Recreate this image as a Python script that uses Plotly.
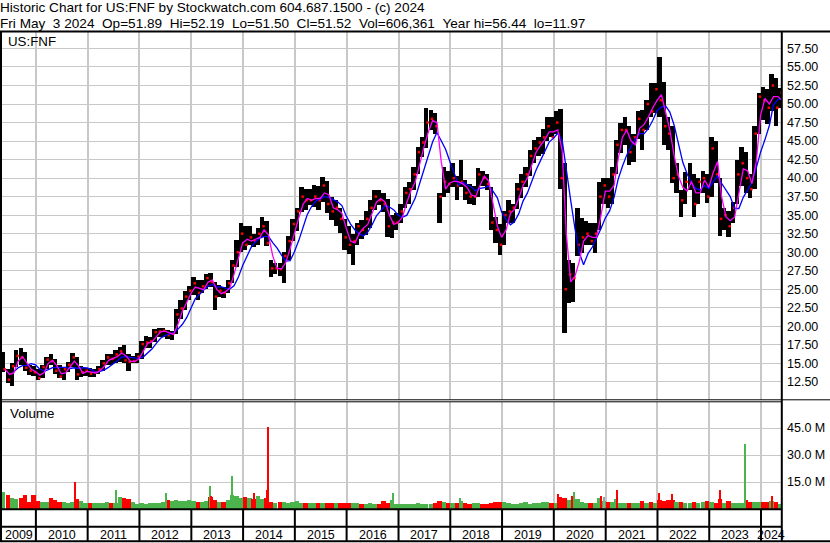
import pandas as pd
import plotly.graph_objects as go

# ---------------- data ----------------
MONTHS = pd.date_range("2009-05-01", "2024-05-01", freq="MS")  # 181 monthly bars

HIGH = [
    16.5, 14.3, 15.0, 16.8, 17.1, 16.5, 14.8, 14.6,                      # 2009 May-Dec
    14.3, 14.8, 15.8, 16.2, 15.6, 14.8, 14.5, 15.2, 16.4, 15.8, 14.7, 14.4,  # 2010
    14.4, 14.3, 14.6, 15.4, 16.3, 16.2, 16.8, 17.2, 17.5, 16.2, 16.0, 16.4,  # 2011
    18.0, 18.7, 18.5, 19.6, 19.8, 19.8, 19.5, 19.4, 22.4, 23.6, 24.8, 25.5,  # 2012
    26.6, 26.3, 26.2, 27.0, 27.2, 26.0, 25.6, 25.3, 26.3, 29.0, 31.7, 33.9,  # 2013
    33.5, 33.6, 32.5, 33.3, 34.8, 34.2, 28.9, 28.6, 28.5, 30.0, 32.2, 34.5,  # 2014
    36.0, 38.8, 38.5, 38.5, 39.1, 38.9, 40.2, 39.6, 37.5, 37.0, 36.0, 34.5,  # 2015
    33.5, 32.5, 34.0, 34.3, 35.5, 37.0, 38.4, 38.4, 38.0, 37.2, 35.0, 35.3,  # 2016
    36.5, 38.8, 39.5, 41.5, 44.2, 45.5, 49.5, 49.2, 48.8, 38.0, 41.5, 40.9,  # 2017
    42.0, 40.3, 42.4, 39.8, 39.2, 39.0, 41.3, 41.0, 40.5, 38.8, 34.8, 33.8,  # 2018
    35.5, 37.0, 36.5, 39.3, 40.6, 41.5, 43.8, 45.1, 45.5, 46.6, 48.2, 48.3,  # 2019
    49.0, 49.3, 42.0, 29.0, 28.5, 36.0, 34.6, 34.2, 34.0, 34.0, 39.5, 40.0,  # 2020
    40.0, 41.5, 45.2, 47.5, 48.2, 47.0, 46.0, 49.0, 49.2, 50.5, 52.8, 52.8,  # 2021
    56.4, 53.0, 48.2, 47.0, 42.0, 38.4, 40.8, 42.0, 40.5, 40.0, 41.0, 40.5,  # 2022
    45.5, 45.0, 40.0, 36.0, 35.5, 36.8, 42.5, 44.2, 43.5, 40.5, 47.0, 51.5,  # 2023
    52.3, 52.0, 54.0, 53.5, 52.2,                                          # 2024 Jan-May
]
LOW = [
    13.8, 12.3, 12.0, 14.5, 14.8, 14.0, 13.4, 13.3,
    12.8, 13.0, 14.3, 14.8, 13.6, 13.0, 12.8, 13.8, 14.5, 12.8, 13.2, 13.3,
    13.2, 13.2, 13.5, 14.0, 14.8, 14.8, 15.0, 15.2, 15.0, 14.0, 15.0, 15.0,
    15.6, 17.1, 17.1, 17.9, 18.5, 18.5, 18.3, 18.2, 19.0, 21.0, 22.2, 23.5,
    24.2, 23.5, 24.5, 25.0, 25.3, 22.2, 24.0, 23.8, 24.5, 25.8, 28.0, 30.0,
    30.3, 31.0, 30.7, 31.0, 32.0, 30.8, 26.7, 27.0, 26.8, 25.8, 29.0, 31.5,
    32.8, 35.4, 35.7, 36.4, 36.1, 35.7, 36.8, 35.3, 34.3, 33.5, 32.6, 30.3,
    29.8, 28.3, 31.0, 31.8, 32.3, 33.3, 35.7, 36.4, 35.4, 32.0, 31.9, 33.0,
    33.9, 36.0, 36.5, 38.4, 40.5, 42.8, 44.0, 46.5, 46.0, 33.9, 37.5, 38.0,
    38.8, 37.0, 38.8, 37.0, 36.5, 36.4, 37.5, 39.0, 38.4, 33.0, 31.2, 29.6,
    31.0, 34.0, 34.0, 35.8, 37.3, 38.8, 40.3, 42.0, 43.0, 43.3, 45.0, 45.5,
    46.0, 38.5, 19.1, 23.2, 23.3, 29.5, 29.9, 31.0, 31.0, 29.9, 33.0, 36.5,
    36.0, 36.5, 40.5, 43.4, 44.5, 41.8, 42.2, 45.3, 43.8, 46.5, 48.2, 48.8,
    48.2, 44.5, 43.8, 39.3, 38.0, 34.8, 36.5, 38.4, 34.8, 36.5, 38.0, 36.6,
    37.5, 39.3, 32.2, 33.0, 32.1, 34.0, 36.5, 39.0, 38.0, 37.3, 38.5, 46.0,
    47.8, 47.3, 49.0, 47.0, 49.5,
]
CLOSE = [
    14.2, 12.8, 14.6, 16.0, 15.8, 14.4, 14.0, 13.8,
    13.0, 14.5, 15.5, 15.3, 14.0, 13.2, 14.2, 14.8, 15.8, 13.5, 13.8, 14.0,
    13.6, 13.8, 14.2, 15.0, 15.8, 15.6, 16.2, 16.6, 15.4, 15.2, 15.3, 15.9,
    17.6, 17.8, 18.0, 19.2, 19.3, 19.4, 18.8, 19.0, 21.6, 22.4, 24.0, 24.8,
    25.8, 24.5, 25.4, 26.5, 26.0, 24.0, 24.8, 24.5, 25.8, 28.2, 30.0, 32.5,
    31.0, 32.0, 31.5, 32.5, 33.5, 31.2, 27.8, 27.8, 27.7, 29.5, 31.5, 33.8,
    35.5, 37.5, 37.0, 37.0, 37.5, 37.0, 39.0, 36.5, 35.5, 36.0, 34.5, 32.0,
    31.0, 31.5, 33.5, 33.0, 34.5, 36.0, 37.5, 37.0, 36.5, 33.5, 34.0, 34.0,
    35.5, 38.0, 38.5, 40.5, 43.5, 44.8, 47.5, 48.0, 47.0, 37.5, 39.5, 39.2,
    40.0, 39.0, 39.5, 38.0, 37.5, 37.5, 40.5, 40.0, 39.2, 34.0, 33.0, 31.0,
    35.0, 35.5, 36.0, 38.5, 39.5, 40.5, 43.0, 44.0, 44.8, 45.5, 47.0, 45.5,
    47.5, 40.0, 25.0, 27.0, 26.5, 31.0, 32.0, 32.5, 31.5, 32.5, 37.5, 39.0,
    37.5, 40.5, 44.5, 46.5, 46.5, 43.5, 45.5, 48.0, 46.5, 50.0, 49.0, 52.0,
    50.5, 47.0, 46.0, 40.0, 40.5, 37.0, 39.5, 39.5, 36.5, 39.5, 40.0, 37.5,
    44.0, 40.5, 34.5, 35.0, 33.5, 36.0, 40.5, 42.0, 40.0, 38.5, 46.0, 51.0,
    50.5, 49.5, 52.5, 49.5, 51.52,
]
# typical daily volume per month, millions of shares
VOLUME = [
    9.5, 8.0, 6.0, 5.5, 6.0, 8.0, 4.0, 8.0,
    4.5, 4.0, 4.0, 6.0, 5.0, 4.0, 4.0, 3.5, 4.0, 5.5, 4.5, 3.5,
    3.3, 3.3, 3.5, 3.3, 3.7, 3.5, 3.5, 6.5, 6.0, 5.5, 4.0, 3.0,
    3.3, 3.0, 3.3, 3.3, 3.5, 4.0, 5.0, 4.5, 5.0, 4.5, 4.5, 5.0,
    4.5, 4.0, 4.0, 4.5, 6.5, 5.0, 4.0, 4.0, 5.0, 8.0, 7.5, 6.0,
    6.5, 6.0, 5.5, 7.5, 5.5, 6.0, 4.0, 3.5, 3.7, 4.0, 3.5, 3.7,
    4.5, 3.5, 3.3, 3.1, 3.3, 3.1, 3.3, 3.5, 3.3, 3.1, 3.3, 3.5,
    3.5, 3.5, 3.1, 3.0, 3.0, 3.3, 3.0, 3.0, 4.5, 3.5, 5.0, 3.0,
    3.0, 3.0, 3.0, 3.0, 3.3, 3.0, 3.0, 3.0, 3.3, 4.2, 3.7, 3.3,
    3.3, 3.1, 4.5, 3.1, 3.0, 3.5, 3.3, 3.0, 3.0, 3.5, 3.7, 3.7,
    4.0, 3.1, 3.0, 3.0, 3.1, 3.7, 3.0, 3.3, 3.1, 3.9, 4.0, 3.3,
    3.5, 6.5, 6.0, 5.0, 7.0, 5.5, 4.0, 3.5, 3.5, 3.5, 6.0, 4.5,
    4.0, 4.0, 5.5, 3.5, 3.3, 3.3, 3.1, 3.3, 4.3, 3.3, 3.7, 3.5,
    5.0, 4.5, 5.0, 5.0, 4.0, 4.0, 3.5, 3.3, 3.7, 3.5, 3.7, 4.5,
    4.0, 3.5, 5.5, 3.5, 4.5, 3.5, 3.3, 3.5, 5.0, 4.0, 4.0, 4.0,
    3.7, 4.0, 4.5, 3.7, 3.0,
]
# single-day volume spikes (millions) and their day direction
SPIKE_DATES = ["2010-10-03", "2011-07-18", "2012-07-06", "2013-05-12", "2013-05-20",
               "2013-10-14", "2014-03-18", "2014-06-18", "2014-06-25", "2016-11-23",
               "2018-03-08", "2020-01-29", "2020-05-21", "2020-11-27", "2020-12-18",
               "2021-03-20", "2022-01-11", "2022-04-13", "2023-03-17", "2023-09-09",
               "2024-03-18"]
SPIKE_VOL = [15.0, 10.6, 8.8, 12.8, 7.3, 18.3, 8.8, 10.6, 45.4, 9.1,
             5.9, 8.3, 9.5, 7.0, 6.8, 10.6, 9.1, 8.6, 10.6, 36.1, 7.0]
SPIKE_DIR = ["down", "up", "up", "up", "down", "up", "down", "down", "down", "up",
             "up", "down", "up", "down", "flat", "down", "down", "down", "down", "up",
             "down"]

PRICE_TICKS = [12.5, 15, 17.5, 20, 22.5, 25, 27.5, 30, 32.5, 35, 37.5, 40,
               42.5, 45, 47.5, 50, 52.5, 55, 57.5]
VOL_TICKS = [15, 30, 45]
VOL_TICK_TEXT = ["15.0 M", "30.0 M", "45.0 M"]
YEARS = list(range(2009, 2025))
HEADER_1 = "Historic Chart for US:FNF by Stockwatch.com 604.687.1500 - (c) 2024"
HEADER_2 = "Fri May  3 2024  Op=51.89  Hi=52.19  Lo=51.50  Cl=51.52  Vol=606,361  Year hi=56.44  lo=11.97"
SYMBOL = "US:FNF"
VOL_TITLE = "Volume"

# ---------------- layout constants ----------------
W, H = 830, 543
FONT = "Liberation Sans, Arial, sans-serif"
FS = 12.5
FS_HEAD = 13.6
FS_LABEL = 13.3
GRID = "#c8c8c8"
GREEN = "#4cb44c"
RED = "#ff0000"
GREY = "#a0a0a0"
X0 = pd.Timestamp("2009-05-07")
X1 = pd.Timestamp("2024-05-21")


def px(x):
    return x / W


def py(y):
    return 1 - y / H


DAY_MS = 86400000
mid = MONTHS + pd.Timedelta(days=15)
mend = MONTHS + pd.Timedelta(days=28)
close_s = pd.Series(CLOSE)
ma_fast = close_s.rolling(2, min_periods=1).mean()
ma_slow = close_s.rolling(5, min_periods=3).mean()

vol_colors = [GREEN]
for i in range(1, len(CLOSE)):
    vol_colors.append(GREEN if CLOSE[i] >= CLOSE[i - 1] else RED)
spike_colors = [{"up": GREEN, "down": RED, "flat": GREY}[d] for d in SPIKE_DIR]

fig = go.Figure()
fig.add_trace(go.Bar(
    x=mid, y=[h - l for h, l in zip(HIGH, LOW)], base=LOW,
    width=30.6 * DAY_MS, marker=dict(color="black", line=dict(width=0)),
    xaxis="x", yaxis="y", hoverinfo="skip"))
fig.add_trace(go.Scatter(
    x=MONTHS + pd.Timedelta(days=24), y=CLOSE, mode="markers",
    marker=dict(symbol="square", size=2.5, color=RED, line=dict(width=0)),
    xaxis="x", yaxis="y", hoverinfo="skip"))
fig.add_trace(go.Scatter(x=mend, y=ma_slow, mode="lines",
                         line=dict(color="#0000ff", width=1.3), xaxis="x", yaxis="y"))
fig.add_trace(go.Scatter(x=mend, y=ma_fast, mode="lines",
                         line=dict(color="#ff00ff", width=1.3), xaxis="x", yaxis="y"))
fig.add_trace(go.Bar(
    x=mid, y=VOLUME, width=30.4 * DAY_MS,
    marker=dict(color=vol_colors, line=dict(width=0)),
    xaxis="x2", yaxis="y2", hoverinfo="skip"))
fig.add_trace(go.Bar(
    x=pd.to_datetime(SPIKE_DATES), y=SPIKE_VOL, width=9 * DAY_MS,
    marker=dict(color=spike_colors, line=dict(width=0)),
    xaxis="x2", yaxis="y2", hoverinfo="skip"))

year_starts = [pd.Timestamp(f"{y}-01-01") for y in YEARS[1:]]
tickfont = dict(family=FONT, size=FS, color="black")
xdom = [px(2), px(781)]
fig.update_layout(
    width=W, height=H, margin=dict(l=0, r=0, t=0, b=0),
    paper_bgcolor="white", plot_bgcolor="white", showlegend=False,
    barmode="overlay", bargap=0,
    xaxis=dict(domain=xdom, range=[X0, X1], type="date", anchor="y",
               tickvals=year_starts, showticklabels=False, ticks="",
               showgrid=True, gridcolor=GRID, gridwidth=2, zeroline=False, showline=False),
    yaxis=dict(domain=[py(400), py(32)], range=[10.05, 59.72], side="right", anchor="x",
               tickvals=PRICE_TICKS, tickformat=".2f", ticks="", tickfont=tickfont,
               ticklabelstandoff=5,
               showgrid=True, gridcolor=GRID, gridwidth=1, zeroline=False, showline=False),
    xaxis2=dict(domain=xdom, matches="x", type="date", anchor="y2",
                tickvals=year_starts, showticklabels=False, ticks="",
                showgrid=True, gridcolor=GRID, gridwidth=2, zeroline=False, showline=False),
    yaxis2=dict(domain=[py(509), py(402)], range=[0, 59.5], side="right", anchor="x2",
                tickvals=VOL_TICKS, ticktext=VOL_TICK_TEXT, ticks="", tickfont=tickfont,
                ticklabelstandoff=5,
                showgrid=True, gridcolor=GRID, gridwidth=1, zeroline=False, showline=False),
)

shapes = []


def hline(y, x0, x1, w):
    shapes.append(dict(type="line", xref="paper", yref="paper", x0=px(x0), x1=px(x1),
                       y0=py(y), y1=py(y), line=dict(color="black", width=w)))


def vline(x, y0, y1, w):
    shapes.append(dict(type="line", xref="paper", yref="paper", x0=px(x), x1=px(x),
                       y0=py(y0), y1=py(y1), line=dict(color="black", width=w)))


hline(31.5, 0, W, 2)
hline(399.8, 0, W, 1)
hline(401.8, 0, 781, 1)
hline(509.3, 0, 781, 2)
hline(526.7, 0, 781, 2)
hline(541.3, 0, W, 2)
vline(1, 31, 542, 2)
vline(781.8, 31, 542, 2)
for ys in year_starts:
    shapes.append(dict(type="line", xref="x", yref="paper", x0=ys, x1=ys,
                       y0=py(541), y1=py(509), line=dict(color="black", width=2)))
fig.update_layout(shapes=shapes)

ann = []


def text(x, y, s, size=FS, anchor="left", pad=1):
    ann.append(dict(xref="paper", yref="paper", x=px(x), y=py(y), text=s.replace("  ", " \u00a0"),
                    showarrow=False, xanchor=anchor, yanchor="middle", borderpad=pad,
                    font=dict(family=FONT, size=size, color="black")))


text(-1, 7.9, HEADER_1, FS_HEAD, pad=0)
text(-1, 23.6, HEADER_2, FS_HEAD, pad=0)
text(6, 41.5, SYMBOL, FS_LABEL)
text(8, 413.3, VOL_TITLE, FS_LABEL)
for y in YEARS:
    a = max(pd.Timestamp(f"{y}-01-01"), X0)
    b = min(pd.Timestamp(f"{y + 1}-01-01"), X1)
    ann.append(dict(xref="x", yref="paper", x=a + (b - a) / 2, y=py(534.5), text=str(y),
                    showarrow=False, xanchor="center", yanchor="middle",
                    font=dict(family=FONT, size=FS, color="black")))
fig.update_layout(annotations=ann)

fig.write_html("out.html", config={"displayModeBar": False},
               post_script="document.body.style.margin='0px';")
